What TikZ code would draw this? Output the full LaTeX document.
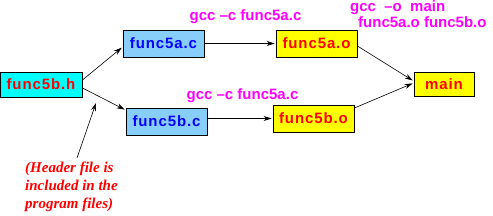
\documentclass[tikz,border=0pt]{standalone}
\usepackage{fontspec}
\setmainfont{Liberation Sans}
\newfontfamily\notefont{Liberation Serif}
\newfontfamily\boxfont[LetterSpace=6]{Liberation Sans}
\usetikzlibrary{arrows.meta}
\definecolor{cboxblue}{RGB}{135,206,250}
\definecolor{hcyan}{RGB}{0,255,255}
\definecolor{oyellow}{RGB}{255,255,0}
\definecolor{cmdmag}{RGB}{255,0,255}
\definecolor{tred}{RGB}{255,0,0}
\definecolor{tblue}{RGB}{0,0,255}
\begin{document}
\begin{tikzpicture}[x=1pt,y=-1pt,
  filebox/.style={draw=black,line width=0.9pt,inner sep=0pt,font=\boxfont\bfseries\fontsize{15}{16}\selectfont},
  hbox/.style={filebox,fill=hcyan,text=tred,minimum width=82pt,minimum height=25pt},
  cbox/.style={filebox,fill=cboxblue,text=tblue,minimum width=81pt,minimum height=27pt},
  obox/.style={filebox,fill=oyellow,text=tred,minimum width=81pt,minimum height=27pt},
  mbox/.style={filebox,fill=oyellow,text=tred,minimum width=60pt,minimum height=24pt},
  cmd/.style={text=cmdmag,font=\bfseries\fontsize{15}{16}\selectfont,inner sep=0pt},
  note/.style={text=tred,font=\notefont\bfseries\itshape\fontsize{15}{18}\selectfont,align=left,inner sep=0pt},
  conn/.style={-{Stealth[length=8pt,width=5pt]},line width=0.6pt,shorten >=1pt}]
\useasboundingbox (0,0) rectangle (493,215);
\node[hbox] (h) at (41,84.5) {func5b.h};
\node[cbox] (ac) at (163.5,43.5) {func5a.c};
\node[cbox] (bc) at (166.5,121.5) {func5b.c};
\node[obox] (ao) at (316.5,43.5) {func5a.o};
\node[obox] (bo) at (313.5,118.5) {func5b.o};
\node[mbox] (m) at (444,84) {main};
\node[cmd] (l1) at (245.5,17) {gcc –c func5a.c};
\node[cmd] (l2) at (242.5,96) {gcc –c func5a.c};
\node[cmd,anchor=west] (l3) at (350,8) {gcc\ \ –o\ \ main};
\node[cmd,anchor=west] (l4) at (358,22) {func5a.o func5b.o};
\node[note,anchor=north west] (n) at (25,162) {(Header file is\\included in the\\program files)};
\coordinate (tip) at (96,103);
\coordinate (tail) at (77,158);
\draw[conn] (h.east |- 0,80) -- (ac.west |- 0,47);
\draw[conn] (h.east |- 0,88) -- (bc.west |- 0,110);
\draw[conn] (ac.east) -- (ao.west);
\draw[conn] (bc.east |- bo.west) -- (bo.west);
\draw[conn] (ao.east |- 0,46) -- (m.west |- 0,81);
\draw[conn] (bo.east |- 0,108) -- (m.west |- 0,83);
\draw[conn,shorten >=0pt] (tail) -- (tip);
\end{tikzpicture}
\end{document}
